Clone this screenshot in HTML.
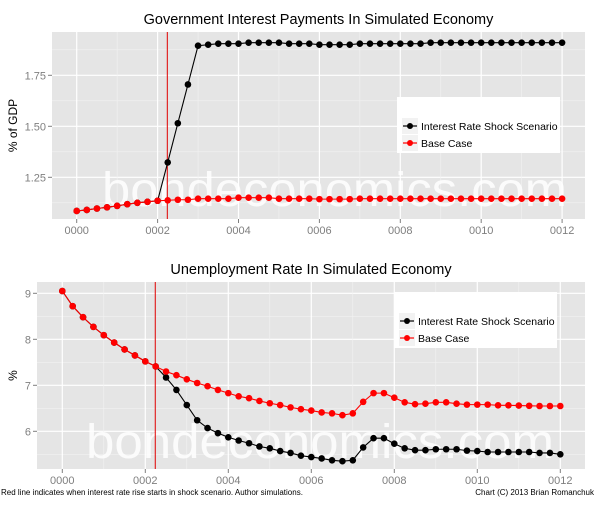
<!DOCTYPE html>
<html><head><meta charset="utf-8"><style>
body{margin:0;background:#fff;font-family:"Liberation Sans",Arial,sans-serif}
svg text{font-family:"Liberation Sans",Arial,sans-serif}
</style></head><body>
<svg id="c" width="600" height="500" xmlns="http://www.w3.org/2000/svg"></svg>
<script>
const years=[];for(let i=0;i<=48;i++)years.push(i/4);
const xTicks=[0,2,4,6,8,10,12];
const xTickLabels=["0000","0002","0004","0006","0008","0010","0012"];
const shockYear=2.24;
const gBase=[1.085,1.09,1.097,1.103,1.11,1.118,1.125,1.13,1.135,1.137,1.14,1.14,1.145,1.145,1.145,1.145,1.15,1.15,1.15,1.15,1.145,1.145,1.145,1.145,1.143,1.143,1.143,1.143,1.145,1.145,1.145,1.145,1.145,1.145,1.145,1.145,1.145,1.145,1.145,1.145,1.145,1.145,1.145,1.145,1.145,1.145,1.145,1.145,1.145];
const gShock=[1.085,1.09,1.097,1.103,1.11,1.118,1.125,1.13,1.135,1.323,1.515,1.705,1.895,1.9,1.905,1.905,1.905,1.91,1.91,1.91,1.91,1.905,1.905,1.905,1.9,1.9,1.9,1.9,1.905,1.905,1.905,1.905,1.905,1.905,1.905,1.91,1.91,1.91,1.91,1.91,1.91,1.91,1.91,1.91,1.91,1.91,1.91,1.91,1.91];
const gYTicks=[1.25,1.5,1.75];
const gYLabels=["1.25","1.50","1.75"];
const uBase=[9.05,8.72,8.48,8.27,8.09,7.93,7.78,7.65,7.52,7.41,7.30,7.22,7.13,7.05,6.98,6.90,6.83,6.76,6.72,6.66,6.61,6.57,6.52,6.48,6.45,6.41,6.39,6.35,6.39,6.64,6.83,6.83,6.73,6.63,6.59,6.60,6.63,6.63,6.60,6.58,6.58,6.58,6.565,6.565,6.56,6.555,6.55,6.55,6.55];
const uShock=[9.05,8.72,8.48,8.27,8.09,7.93,7.78,7.65,7.52,7.41,7.17,6.90,6.57,6.24,6.07,5.96,5.87,5.80,5.74,5.67,5.63,5.57,5.53,5.47,5.44,5.41,5.37,5.35,5.37,5.65,5.85,5.85,5.73,5.63,5.59,5.59,5.61,5.61,5.61,5.58,5.57,5.55,5.55,5.55,5.55,5.55,5.53,5.53,5.50];
const uYTicks=[6,7,8,9];
const uYLabels=["6","7","8","9"];
const NS="http://www.w3.org/2000/svg";
const svg=document.getElementById('c');
function mk(t,a,p){const e=document.createElementNS(NS,t);for(const k in a)e.setAttribute(k,a[k]);(p||svg).appendChild(e);return e;}
function panel(o){
 const g=mk('g',{});
 
 
 const X=v=>o.x0+(v-0)*o.xs, Y=v=>o.y0-(v-o.v0)*o.ys;
 const bg=mk('rect',{x:o.L,y:o.T,width:o.R-o.L,height:o.B-o.T,fill:'#e5e5e5'},g);
 
 
 const step=o.yTicks[1]-o.yTicks[0];
 for(let v=o.yTicks[0]-step*2;v<=o.yTicks[o.yTicks.length-1]+step*2;v+=step/2){const y=Y(v);if(y<o.T||y>o.B)continue;
  const major=Math.abs(((v-o.yTicks[0])/step)%1)<1e-6;
  mk('line',{x1:o.L,x2:o.R,y1:y,y2:y,stroke:major?'#fff':'#f2f2f2','stroke-width':major?1.2:0.6},g);}
 for(let v=-1;v<=13;v+=1){const x=X(v);if(x<o.L||x>o.R)continue;const major=v%2===0;
  mk('line',{x1:x,x2:x,y1:o.T,y2:o.B,stroke:major?'#fff':'#f2f2f2','stroke-width':major?1.2:0.6},g);}
 const wm=mk('text',{x:o.wx,y:o.wy,'font-size':48,fill:'#fff','fill-opacity':0.85,textLength:o.ww,lengthAdjust:'spacingAndGlyphs'},g);wm.textContent='bondeconomics.com';
 
 
 o.yTicks.forEach((v,i)=>{const y=Y(v);mk('line',{x1:o.L-4,x2:o.L,y1:y,y2:y,stroke:'#7f7f7f'},g);
  const t=mk('text',{x:o.L-6,y:y+4,'font-size':11,fill:'#7f7f7f','text-anchor':'end'},g);t.textContent=o.yLabels[i];
  
  });
 xTicks.forEach((v,i)=>{const x=X(v);mk('line',{x1:x,x2:x,y1:o.B,y2:o.B+4,stroke:'#7f7f7f'},g);
  const t=mk('text',{x:x,y:o.B+15,'font-size':11,fill:'#7f7f7f','text-anchor':'middle'},g);t.textContent=xTickLabels[i];
  
  });
 const vl=mk('line',{x1:X(shockYear),x2:X(shockYear),y1:o.T,y2:o.B,stroke:'#e00000','stroke-width':1},g);
 
 
 [[o.shock,'#000','shock-series'],[o.base,'#f00','base-series']].forEach(([d,c,n])=>{
  const pl=mk('polyline',{points:d.map((v,i)=>X(years[i])+','+Y(v)).join(' '),fill:'none',stroke:c,'stroke-width':1.1},g);
  
  
  d.forEach((v,i)=>{const p=mk('circle',{cx:X(years[i]),cy:Y(v),r:3.3,fill:c},g);
   
   });
 });
 const t=mk('text',{x:(o.L+o.R)/2,y:o.T-8,'font-size':14.5,fill:'#000','text-anchor':'middle'},g);t.textContent=o.title;
 
 
 const yt=mk('text',{x:0,y:0,'font-size':12,fill:'#000','text-anchor':'middle',transform:`translate(${o.ytx},${(o.T+o.B)/2}) rotate(-90)`},g);yt.textContent=o.ytitle;
 
 
 const lg=mk('g',{},g);
 
 
 mk('rect',{x:o.lx,y:o.ly,width:163,height:56,fill:'#fff'},lg);
 [['Interest Rate Shock Scenario','#000',29],['Base Case','#f00',46]].forEach(([s,c,dy])=>{
  mk('rect',{x:o.lx+5,y:o.ly+dy-8,width:16,height:16,fill:'#f2f2f2'},lg);
  mk('line',{x1:o.lx+6,x2:o.lx+20,y1:o.ly+dy,y2:o.ly+dy,stroke:c,'stroke-width':1.2},lg);
  mk('circle',{cx:o.lx+13,cy:o.ly+dy,r:3,fill:c},lg);
  const e=mk('text',{x:o.lx+24,y:o.ly+dy+4,'font-size':10.5,fill:'#000'},lg);e.textContent=s;
  
  
 });
}
panel({name:'interest-payments-panel',L:52,R:585,T:32,B:219,x0:76.7,xs:40.45,y0:177.3,v0:1.25,ys:204,yTicks:gYTicks,yLabels:gYLabels,shock:gShock,base:gBase,title:'Government Interest Payments In Simulated Economy',ytitle:'% of GDP',ytx:17,wx:102,wy:206,ww:465,lx:397,ly:97});
panel({name:'unemployment-panel',L:37,R:585,T:282,B:469,x0:62.3,xs:41.5,y0:385.3,v0:7,ys:46,yTicks:uYTicks,yLabels:uYLabels,shock:uShock,base:uBase,title:'Unemployment Rate In Simulated Economy',ytitle:'%',ytx:17,wx:86,wy:458,ww:468,lx:394,ly:292});
const f1=mk('text',{x:1,y:495,'font-size':8,fill:'#000'});f1.textContent='Red line indicates when interest rate rise starts in shock scenario. Author simulations.';


const f2=mk('text',{x:594,y:495,'font-size':8,fill:'#000','text-anchor':'end'});f2.textContent='Chart (C) 2013 Brian Romanchuk';


</script>
</body></html>
